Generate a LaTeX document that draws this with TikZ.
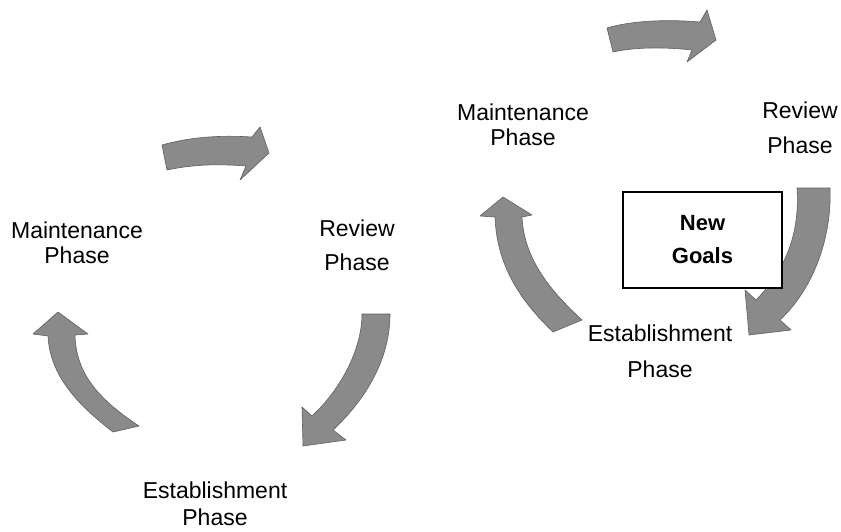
\documentclass[tikz,border=0pt]{standalone}
\usepackage{fontspec}
\setmainfont{Liberation Sans}
\begin{document}
\begin{tikzpicture}[x=1pt,y=-1pt,
  cyclearrow/.style={fill={rgb,255:red,138;green,138;blue,138},draw={rgb,255:red,95;green,95;blue,95},line width=0.6pt,line join=round},
  phaselabel/.style={font=\fontsize{23}{25}\selectfont,align=center,inner sep=0pt,anchor=north},
  goalbox/.style={draw=black,line width=1.6pt,fill=white,minimum width=159pt,minimum height=96pt,font=\bfseries\fontsize{22}{25}\selectfont,align=center}]
\useasboundingbox (0,0) rectangle (841,531);
\fill[white] (0,0) rectangle (841,531);

% ---------- left cycle ----------
% top arrow (Maintenance -> Review)
\path[cyclearrow] (162,145) .. controls (190,137) and (220,135) .. (252,137)
  -- (260,127) -- (269,153) -- (240,180) -- (246,166)
  .. controls (220,164) and (195,164) .. (167,170) -- cycle;
% right arrow (Review -> Establishment)
\path[cyclearrow] (362,314) -- (390,314) .. controls (390,360) and (365,400) .. (333,430)
  -- (346,440) -- (303,446) -- (302,407) -- (312,416)
  .. controls (340,390) and (362,350) .. (362,314) -- cycle;
% left arrow (Establishment -> Maintenance)
\path[cyclearrow] (113,432) .. controls (85,410) and (50,380) .. (48,336)
  -- (33,334) -- (58,312) -- (88,334) -- (75,335)
  .. controls (76,375) and (100,400) .. (139,426) -- cycle;

\node[phaselabel] (lmaint) at (77,221.5) {Maintenance\\Phase};
\node[phaselabel] (lrev) at (357,219.5) {Review\\[9pt]Phase};
\node[phaselabel] (lest) at (215,482) {Establishment\\[2pt]Phase};

% ---------- right cycle ----------
% top arrow
\path[cyclearrow] (607,28) .. controls (630,21) and (665,19) .. (700,22)
  -- (707,10) -- (716,40) -- (687,62) -- (692,50)
  .. controls (665,47) and (635,47) .. (613,52) -- cycle;
% left arrow
\path[cyclearrow] (553,332) .. controls (525,305) and (497,270) .. (495,217)
  -- (480,216) -- (503,197) -- (532,215) -- (522,217)
  .. controls (524,262) and (555,295) .. (582,320) -- cycle;
% right arrow
\path[cyclearrow] (797,188) -- (830,188) .. controls (832,240) and (812,290) .. (780,320)
  -- (791,330) -- (749,335) -- (745,290) -- (756,300)
  .. controls (785,270) and (800,235) .. (797,188) -- cycle;

\node[goalbox] (goals) at (702.5,240) {New\\[8pt]Goals};

\node[phaselabel] (rmaint) at (523,103.5) {Maintenance\\Phase};
\node[phaselabel] (rrev) at (800,101.5) {Review\\[10pt]Phase};
\node[phaselabel] (rest) at (660,324.5) {Establishment\\[11pt]Phase};
\end{tikzpicture}
\end{document}
